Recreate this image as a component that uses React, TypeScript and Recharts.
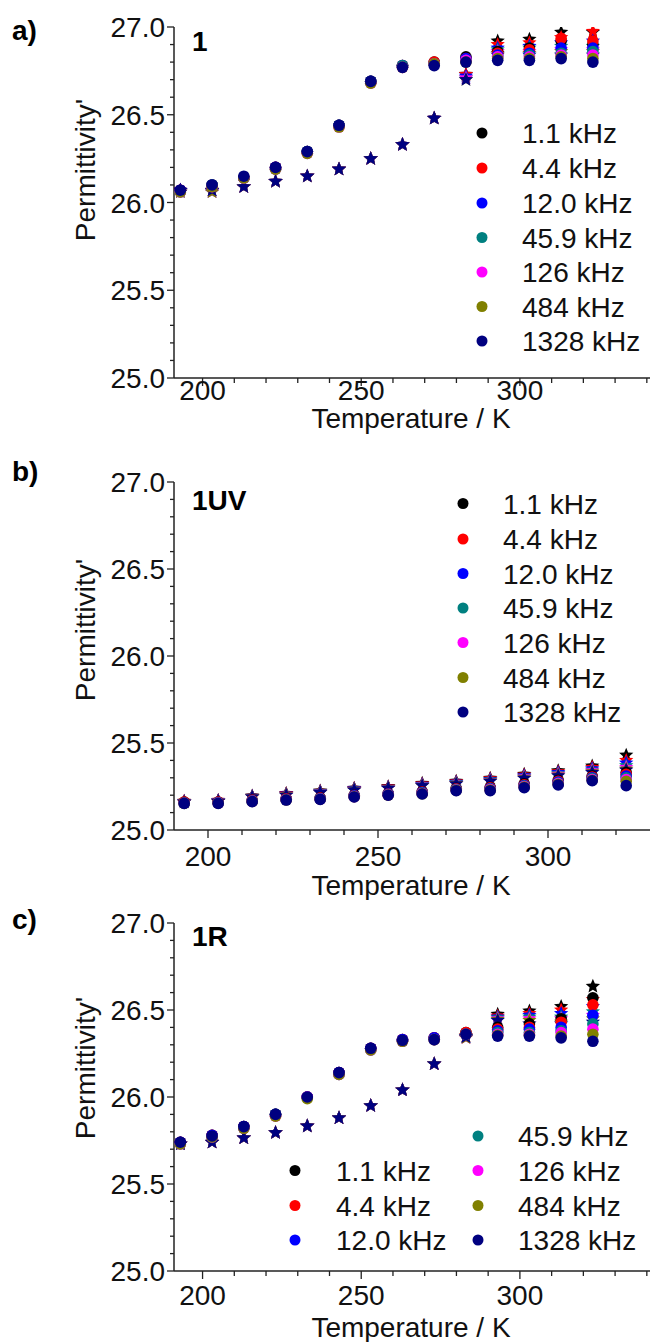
import React from 'react';
import { ScatterChart, Scatter, XAxis, YAxis, Legend } from 'recharts';

const temps = [193, 203, 213, 223, 233, 243, 253, 263, 273, 283, 293, 303, 313, 323];
const freqLabels = ['1.1 kHz', '4.4 kHz', '12.0 kHz', '45.9 kHz', '126 kHz', '484 kHz', '1328 kHz'];
const freqColors = ['#000000', '#ff0000', '#0000ff', '#008080', '#ff00ff', '#808000', '#000080'];
const yTicks = [25.0, 25.1, 25.2, 25.3, 25.4, 25.5, 25.6, 25.7, 25.8, 25.9, 26.0, 26.1, 26.2, 26.3, 26.4, 26.5, 26.6, 26.7, 26.8, 26.9, 27.0];
const xTicksWide = [200, 210, 220, 230, 240, 250, 260, 270, 280, 290, 300, 310, 320, 330, 340];
const xTicksNarrow = [200, 210, 220, 230, 240, 250, 260, 270, 280, 290, 300, 310, 320];

// a) sample 1 -- circles, rows follow freqLabels
const circlesA = [
  [26.07, 26.10, 26.14, 26.20, 26.29, 26.44, 26.69, 26.78, 26.80, 26.83, 26.86, 26.88, 26.92, 26.90],
  [26.07, 26.10, 26.14, 26.20, 26.29, 26.44, 26.69, 26.78, 26.80, 26.82, 26.85, 26.87, 26.935, 26.92],
  [26.07, 26.10, 26.14, 26.20, 26.29, 26.44, 26.69, 26.78, 26.79, 26.82, 26.84, 26.85, 26.88, 26.88],
  [26.06, 26.10, 26.14, 26.19, 26.29, 26.44, 26.69, 26.78, 26.79, 26.81, 26.83, 26.84, 26.85, 26.86],
  [26.06, 26.09, 26.14, 26.19, 26.28, 26.43, 26.68, 26.77, 26.79, 26.81, 26.83, 26.83, 26.84, 26.84],
  [26.06, 26.09, 26.14, 26.19, 26.28, 26.43, 26.68, 26.77, 26.79, 26.80, 26.82, 26.82, 26.83, 26.82],
  [26.07, 26.10, 26.15, 26.20, 26.29, 26.44, 26.69, 26.77, 26.78, 26.80, 26.81, 26.81, 26.82, 26.80],
];
// a) sample 1 -- stars
const starsA = [
  [26.07, 26.07, 26.09, 26.12, 26.15, 26.19, 26.25, 26.33, 26.48, 26.73, 26.92, 26.93, 26.97, 26.97],
  [26.07, 26.07, 26.09, 26.12, 26.15, 26.19, 26.25, 26.33, 26.48, 26.73, 26.90, 26.91, 26.94, 26.975],
  [26.07, 26.07, 26.09, 26.12, 26.15, 26.19, 26.25, 26.33, 26.48, 26.72, 26.88, 26.89, 26.91, 26.92],
  [26.06, 26.06, 26.09, 26.12, 26.15, 26.19, 26.25, 26.33, 26.48, 26.71, 26.87, 26.88, 26.89, 26.89],
  [26.06, 26.06, 26.09, 26.12, 26.15, 26.19, 26.25, 26.33, 26.48, 26.71, 26.86, 26.86, 26.87, 26.87],
  [26.06, 26.06, 26.09, 26.12, 26.15, 26.19, 26.25, 26.33, 26.48, 26.70, 26.85, 26.85, 26.86, 26.86],
  [26.07, 26.07, 26.09, 26.12, 26.15, 26.19, 26.25, 26.33, 26.48, 26.70, 26.84, 26.84, 26.84, 26.84],
];

// b) 1UV
const circlesB = [
  [25.16, 25.16, 25.17, 25.18, 25.185, 25.20, 25.21, 25.22, 25.24, 25.245, 25.265, 25.285, 25.31, 25.33],
  [25.16, 25.16, 25.17, 25.18, 25.183, 25.198, 25.208, 25.218, 25.237, 25.242, 25.26, 25.28, 25.305, 25.32],
  [25.155, 25.158, 25.167, 25.177, 25.181, 25.196, 25.206, 25.215, 25.234, 25.238, 25.256, 25.275, 25.30, 25.31],
  [25.155, 25.156, 25.166, 25.175, 25.18, 25.194, 25.204, 25.212, 25.232, 25.235, 25.253, 25.27, 25.295, 25.30],
  [25.154, 25.155, 25.165, 25.174, 25.178, 25.192, 25.202, 25.21, 25.23, 25.232, 25.25, 25.267, 25.29, 25.29],
  [25.153, 25.154, 25.164, 25.173, 25.177, 25.191, 25.201, 25.208, 25.228, 25.229, 25.247, 25.263, 25.286, 25.28],
  [25.153, 25.153, 25.163, 25.172, 25.176, 25.19, 25.20, 25.207, 25.226, 25.226, 25.243, 25.259, 25.283, 25.255],
];
const starsB = [
  [25.165, 25.17, 25.195, 25.21, 25.224, 25.24, 25.249, 25.268, 25.28, 25.297, 25.32, 25.34, 25.368, 25.43],
  [25.165, 25.17, 25.194, 25.208, 25.222, 25.238, 25.247, 25.265, 25.277, 25.294, 25.316, 25.335, 25.36, 25.40],
  [25.163, 25.168, 25.193, 25.206, 25.22, 25.236, 25.245, 25.262, 25.274, 25.29, 25.312, 25.33, 25.352, 25.385],
  [25.162, 25.167, 25.192, 25.204, 25.218, 25.234, 25.243, 25.26, 25.271, 25.287, 25.308, 25.325, 25.345, 25.37],
  [25.161, 25.166, 25.191, 25.203, 25.217, 25.232, 25.242, 25.258, 25.269, 25.284, 25.304, 25.32, 25.34, 25.36],
  [25.16, 25.165, 25.19, 25.202, 25.216, 25.231, 25.241, 25.256, 25.267, 25.282, 25.30, 25.316, 25.335, 25.35],
  [25.16, 25.165, 25.19, 25.20, 25.215, 25.23, 25.24, 25.255, 25.265, 25.28, 25.297, 25.312, 25.33, 25.345],
];

// c) 1R
const circlesC = [
  [25.74, 25.78, 25.83, 25.90, 26.00, 26.14, 26.28, 26.33, 26.34, 26.37, 26.40, 26.42, 26.45, 26.57],
  [25.74, 25.78, 25.83, 25.90, 26.00, 26.14, 26.28, 26.33, 26.34, 26.37, 26.39, 26.40, 26.43, 26.53],
  [25.74, 25.78, 25.83, 25.90, 26.00, 26.14, 26.28, 26.33, 26.34, 26.36, 26.38, 26.39, 26.40, 26.47],
  [25.73, 25.77, 25.82, 25.90, 26.00, 26.13, 26.27, 26.32, 26.33, 26.36, 26.37, 26.37, 26.38, 26.42],
  [25.73, 25.77, 25.82, 25.89, 26.00, 26.13, 26.27, 26.32, 26.33, 26.36, 26.36, 26.36, 26.37, 26.39],
  [25.73, 25.77, 25.82, 25.89, 25.99, 26.13, 26.27, 26.32, 26.33, 26.36, 26.355, 26.355, 26.35, 26.36],
  [25.74, 25.776, 25.83, 25.90, 26.00, 26.14, 26.28, 26.326, 26.33, 26.36, 26.35, 26.35, 26.34, 26.32],
];
const starsC = [
  [25.73, 25.74, 25.765, 25.795, 25.833, 25.88, 25.95, 26.04, 26.19, 26.35, 26.475, 26.494, 26.52, 26.636],
  [25.73, 25.74, 25.765, 25.795, 25.833, 25.88, 25.95, 26.04, 26.19, 26.35, 26.465, 26.48, 26.50, 26.56],
  [25.73, 25.74, 25.765, 25.795, 25.833, 25.88, 25.95, 26.04, 26.19, 26.345, 26.46, 26.47, 26.48, 26.52],
  [25.73, 25.74, 25.765, 25.795, 25.833, 25.88, 25.95, 26.04, 26.19, 26.345, 26.455, 26.46, 26.46, 26.49],
  [25.73, 25.74, 25.765, 25.795, 25.833, 25.88, 25.95, 26.04, 26.19, 26.34, 26.45, 26.45, 26.45, 26.47],
  [25.73, 25.74, 25.765, 25.795, 25.833, 25.88, 25.95, 26.04, 26.19, 26.34, 26.445, 26.44, 26.43, 26.45],
  [25.73, 25.74, 25.765, 25.795, 25.833, 25.88, 25.95, 26.04, 26.19, 26.345, 26.44, 26.42, 26.42, 26.43],
];

const FONT = '"Liberation Sans", Arial, sans-serif';
const FS = 28;
const AXIS = '#222';

const toPoints = (vals: number[]) => temps.map((t, i) => ({ t, v: vals[i] }));

const starPath = (cx: number, cy: number, R: number) => {
  const r = R * 0.45;
  let d = '';
  for (let i = 0; i < 10; i++) {
    const rad = i % 2 === 0 ? R : r;
    const a = -Math.PI / 2 + (i * Math.PI) / 5;
    d += (i === 0 ? 'M' : 'L') + (cx + rad * Math.cos(a)).toFixed(2) + ',' + (cy + rad * Math.sin(a)).toFixed(2);
  }
  return d + 'Z';
};

const XTick = (props: any) => {
  const { x, y, payload, base } = props;
  const major = payload.value % 50 === 0;
  return (
    <g>
      <line x1={x} y1={y} x2={x} y2={y + (major ? 8 : 5)} stroke={AXIS} strokeWidth={1.3} />
      {major && (
        <text x={x} y={y + base} textAnchor="middle" fontSize={FS} fontFamily={FONT} fill="#111">
          {payload.value}
        </text>
      )}
    </g>
  );
};

const YTick = (props: any) => {
  const { x, y, payload } = props;
  const v = payload.value;
  const major = Math.abs(v * 2 - Math.round(v * 2)) < 1e-6;
  return (
    <g>
      <line x1={x} y1={y} x2={x - (major ? 7 : 4)} y2={y} stroke={AXIS} strokeWidth={1.3} />
      {major && (
        <text x={x - 9} y={y + 10} textAnchor="end" fontSize={FS} fontFamily={FONT} fill="#111">
          {v.toFixed(1)}
        </text>
      )}
    </g>
  );
};

type Panel = {
  top: number;
  height: number;
  marginTop: number;
  plotH: number;
  xDomain: [number, number];
  xTicks: number[];
  circles: number[][];
  stars: number[][];
  letter: string;
  tag: string;
  letterY: number;
  tagY: number;
  tickBase: number;
  titleBase: number;
  yTitleY: number;
  legendPos: number[][]; // marker x, text x, row y
};

const rowsA = [133, 168, 203, 237.5, 272, 306.5, 341];
const rowsB = [63.5, 99, 133.5, 168, 202.5, 237.5, 272];

const panels: Panel[] = [
  {
    top: 0, height: 440, marginTop: 27, plotH: 351,
    xDomain: [191, 341], xTicks: xTicksWide, circles: circlesA, stars: starsA,
    letter: 'a)', tag: '1', letterY: 40, tagY: 51, tickBase: 22, titleBase: 50, yTitleY: 170,
    legendPos: rowsA.map((r) => [482, 522, r]),
  },
  {
    top: 440, height: 460, marginTop: 42, plotH: 348,
    xDomain: [190, 330], xTicks: xTicksNarrow, circles: circlesB, stars: starsB,
    letter: 'b)', tag: '1UV', letterY: 41, tagY: 70, tickBase: 36, titleBase: 65, yTitleY: 190,
    legendPos: rowsB.map((r) => [463, 503, r]),
  },
  {
    top: 880, height: 462, marginTop: 43, plotH: 348,
    xDomain: [191, 341], xTicks: xTicksWide, circles: circlesC, stars: starsC,
    letter: 'c)', tag: '1R', letterY: 49, tagY: 66, tickBase: 34, titleBase: 66, yTitleY: 188,
    legendPos: [
      [295, 336, 290.5], [295, 336, 325.5], [295, 336, 360],
      [478, 518, 256], [478, 518, 290.5], [478, 518, 325.5], [478, 518, 360],
    ],
  },
];

const LegendBox = ({ pos, h }: { pos: number[][]; h: number }) => (
  <svg width={651} height={h} style={{ display: 'block' }}>
    {freqLabels.map((name, i) => {
      const q = pos[i];
      if (!q) return null;
      return (
        <g key={name}>
          <circle cx={q[0]} cy={q[2]} r={5.5} fill={freqColors[i]} />
          <text x={q[1]} y={q[2] + 10} fontSize={FS} fontFamily={FONT} fill="#111">
            {name}
          </text>
        </g>
      );
    })}
  </svg>
);

const makeCircle = (color: string) => (sp: any) => <circle cx={sp.cx} cy={sp.cy} r={5.8} fill={color} />;
const makeStar = (color: string) => (sp: any) => <path d={starPath(sp.cx, sp.cy, 7.5)} fill={color} />;

const PanelChart = ({ p }: { p: Panel }) => {
  const axisY = p.marginTop + p.plotH;
  return (
    <div style={{ position: 'absolute', left: 0, top: p.top, width: 651, height: p.height }}>
      <ScatterChart width={651} height={p.height} margin={{ top: p.marginTop, right: 1, bottom: 0, left: 0 }}>
        <XAxis
          type="number"
          dataKey="t"
          domain={p.xDomain}
          ticks={p.xTicks}
          interval={0}
          allowDataOverflow
          height={p.height - p.marginTop - p.plotH}
          axisLine={{ stroke: AXIS, strokeWidth: 1.5 }}
          tickLine={false}
          tickSize={0}
          tickMargin={0}
          tick={<XTick base={p.tickBase} />}
        />
        <YAxis
          type="number"
          dataKey="v"
          domain={[25, 27]}
          ticks={yTicks}
          interval={0}
          allowDataOverflow
          width={174}
          axisLine={{ stroke: AXIS, strokeWidth: 1.5 }}
          tickLine={false}
          tickSize={0}
          tickMargin={0}
          tick={<YTick />}
        />
        {p.stars.map((vals, k) => (
          <Scatter
            key={'s' + k}
            name={freqLabels[k] + ' *'}
            data={toPoints(vals)}
            fill={freqColors[k]}
            legendType="none"
            isAnimationActive={false}
            shape={makeStar(freqColors[k])}
          />
        ))}
        {p.circles.map((vals, k) => (
          <Scatter
            key={'c' + k}
            name={freqLabels[k]}
            data={toPoints(vals)}
            fill={freqColors[k]}
            isAnimationActive={false}
            shape={makeCircle(freqColors[k])}
          />
        ))}
        <Legend
          layout="vertical"
          align="center"
          verticalAlign="middle"
          wrapperStyle={{ left: 0, top: 0, width: 651, height: p.height, pointerEvents: 'none' }}
          content={() => <LegendBox pos={p.legendPos} h={p.height} />}
        />
      </ScatterChart>
      <svg
        width={651}
        height={p.height}
        style={{ position: 'absolute', left: 0, top: 0, pointerEvents: 'none' }}
      >
        <text x={12} y={p.letterY} fontSize={FS} fontWeight="bold" fontFamily={FONT} fill="#000">
          {p.letter}
        </text>
        <text x={192} y={p.tagY} fontSize={FS} fontWeight="bold" fontFamily={FONT} fill="#000">
          {p.tag}
        </text>
        <text x={411} y={axisY + p.titleBase} textAnchor="middle" fontSize={FS} fontFamily={FONT} fill="#111">
          Temperature / K
        </text>
        <text
          x={85}
          y={p.yTitleY}
          transform={`rotate(-90 85 ${p.yTitleY})`}
          textAnchor="middle"
          dominantBaseline="central"
          fontSize={FS}
          fontFamily={FONT}
          fill="#111"
        >
          Permittivity'
        </text>
      </svg>
    </div>
  );
};

export default function App() {
  return (
    <div style={{ position: 'absolute', left: 0, top: 0, width: 651, height: 1342, background: '#fff' }}>
      {panels.map((p) => (
        <PanelChart key={p.letter} p={p} />
      ))}
    </div>
  );
}
